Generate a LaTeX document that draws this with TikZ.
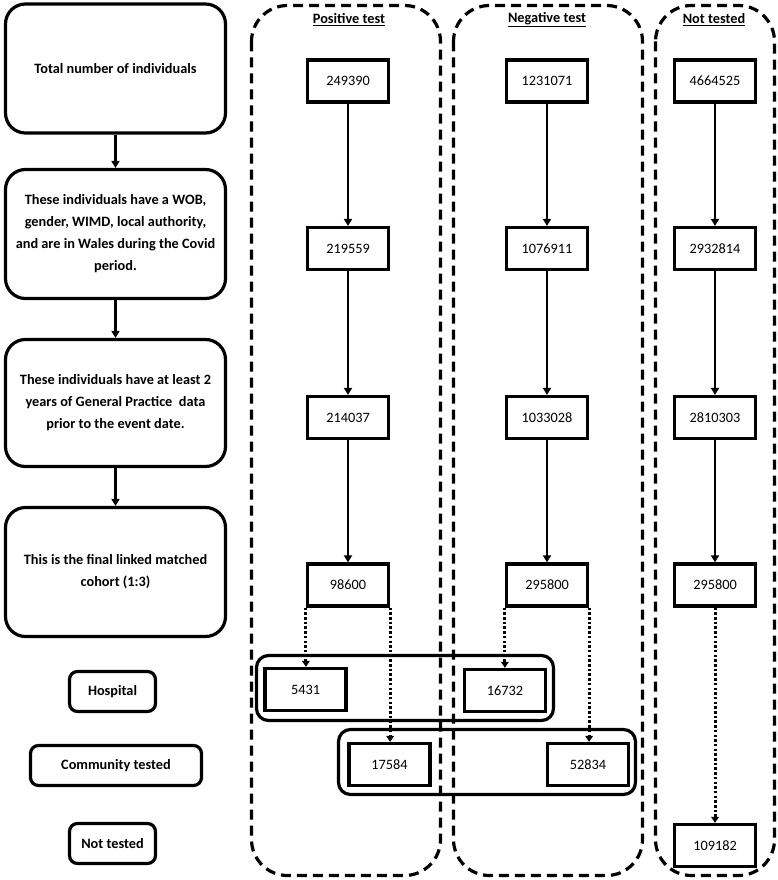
\documentclass[tikz,border=0pt]{standalone}
\usepackage{fontspec}
\setmainfont{Carlito}
\usetikzlibrary{arrows.meta,positioning}
\newcommand{\boxfont}{\fontsize{14.3}{22}\selectfont}
\tikzset{
	stage/.style={draw, line width=3.2pt, rounded corners=20pt, minimum width=220pt, align=center, font=\boxfont\bfseries},
	keybox/.style={draw, line width=3.2pt, rounded corners=8pt, minimum height=40pt, font=\boxfont\bfseries},
	count/.style={draw, line width=3.2pt, minimum width=81pt, minimum height=42pt, font=\boxfont},
	head/.style={font=\boxfont\bfseries},
	column/.style={line width=3.2pt, dash pattern=on 10pt off 6pt, rounded corners=36pt},
	group/.style={line width=3.2pt, rounded corners=12pt},
	flow/.style={-{Triangle[length=7pt,width=8pt]}, line width=2.8pt},
	link/.style={-{Triangle[length=6pt,width=7.5pt]}, line width=3pt, dash pattern=on 2.5pt off 2.2pt}
}

\begin{document}
\begin{tikzpicture}[x=1pt, y=-1pt]
			%%%%% START %%%%%
			\useasboundingbox (0,0) rectangle (777,880);
			
			% dashed columns
			\draw[column] (251.5,5.5) rectangle (440.5,875.5);
			\draw[column] (453.5,5.5) rectangle (642.5,875.5);
			\draw[column] (655.5,5.5) rectangle (774.5,875.5);
			
			\node[head] (poshead) at (349,20) {\underline{Positive test}};
			\node[head] (neghead) at (547,20) {\underline{Negative test}};
			\node[head] (nothead) at (714,20) {\underline{Not tested}};
			
			% stages on the left
			\node[stage, minimum height=129pt] (total) at (115.5,68.5) {Total number of individuals};
			\node[stage, minimum height=129pt] (wales) at (115.5,234) {These individuals have a WOB,\\gender, WIMD, local authority,\\and are in Wales during the Covid\\period.};
			\node[stage, minimum height=127pt] (gp) at (115.5,403) {These individuals have at least 2\\years of General Practice~ data\\prior to the event date.};
			\node[stage, minimum height=129pt] (cohort) at (115.5,572) {This is the final linked matched\\cohort (1:3)};
			
			\draw[flow] (total) -- (wales);
			\draw[flow] (wales) -- (gp);
			\draw[flow] (gp) -- (cohort);
			
			\node[keybox, minimum width=86pt] (hosp) at (112.5,691.5) {Hospital};
			\node[keybox, minimum width=171pt] (comm) at (116,765.5) {Community tested};
			\node[keybox, minimum width=86pt] (nottest) at (112.5,843.5) {Not tested};
			
			% counts
			\node[count] (p1) at (348,81) {249390};
			\node[count] (p2) at (348,248.5) {219559};
			\node[count] (p3) at (348,417.5) {214037};
			\node[count] (p4) at (348,585) {98600};
			
			\node[count] (n1) at (547,81) {1231071};
			\node[count] (n2) at (547,248.5) {1076911};
			\node[count] (n3) at (547,417.5) {1033028};
			\node[count] (n4) at (547,585) {295800};
			
			\node[count] (u1) at (715,81) {4664525};
			\node[count] (u2) at (715,248.5) {2932814};
			\node[count] (u3) at (715,417.5) {2810303};
			\node[count] (u4) at (715,585) {295800};
			
			\foreach \c in {p,n,u}{
				\draw[flow] (\c1) -- (\c2);
				\draw[flow] (\c2) -- (\c3);
				\draw[flow] (\c3) -- (\c4);
			}
			
			% hospital and community groups
			\draw[group] (256.5,655.5) rectangle (553.5,720.5);
			\draw[group] (338.5,729.5) rectangle (635.5,794.5);
			
			\node[count] (ph) at (305.5,689.5) {5431};
			\node[count] (nh) at (505,690.5) {16732};
			\node[count] (pc) at (389.5,764.5) {17584};
			\node[count] (nc) at (588,764.5) {52834};
			\node[count] (un) at (715,845.5) {109182};
			
			\draw[link] (p4.south west) -- (p4.south west |- ph.north);
			\draw[link] (p4.south east) -- (p4.south east |- pc.north);
			\draw[link] (n4.south west) -- (n4.south west |- nh.north);
			\draw[link] (n4.south east) -- (n4.south east |- nc.north);
			\draw[link] (u4) -- (un);
			%%%%% END %%%%%
\end{tikzpicture}
\end{document}
